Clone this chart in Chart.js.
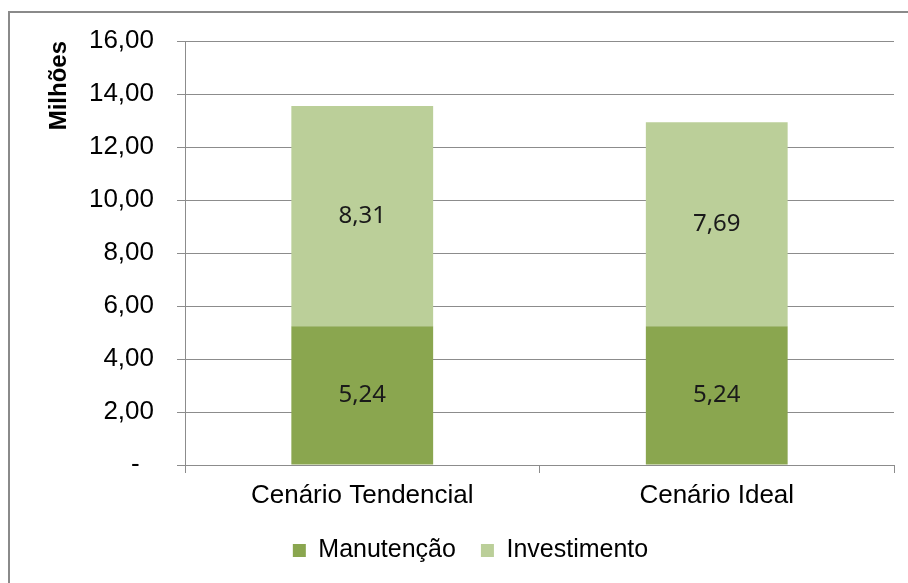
<!DOCTYPE html>
<html>
<head>
<meta charset="utf-8">
<script src="https://cdn.jsdelivr.net/npm/chart.js@4/dist/chart.umd.min.js"></script>
<style>
  html, body { margin: 0; padding: 0; background: #fff; overflow: hidden; }
  #frame {
    position: absolute; left: 8px; top: 11px;
    width: 1000px; height: 700px;
    border: 2px solid #8a8a8a;
  }
  #wrap { position: absolute; left: 0; top: 0; width: 908px; height: 583px; }
</style>
</head>
<body>
<div id="frame"></div>
<div id="wrap"><canvas id="custosChart" width="908" height="583"></canvas></div>
<script>
// Data
const categories = ['Cenário Tendencial', 'Cenário Ideal'];
const manutencao = [5.24, 5.24];
const investimento = [8.31, 7.69];
const yTickLabels = ['-', '2,00', '4,00', '6,00', '8,00', '10,00', '12,00', '14,00', '16,00'];

const FONT = '"Liberation Sans", Arial, sans-serif';
const GRID = '#8c8c8c';

// values written in the middle of each bar segment
const barValueLabels = {
  id: 'barValueLabels',
  afterDatasetsDraw(chart) {
    const ctx = chart.ctx;
    ctx.save();
    ctx.font = '24px "Noto Sans"';
    ctx.fillStyle = '#1a1a1a';
    ctx.textAlign = 'center';
    ctx.textBaseline = 'middle';
    chart.data.datasets.forEach((ds, i) => {
      chart.getDatasetMeta(i).data.forEach((bar, j) => {
        const y = (bar.y + bar.base) / 2;
        ctx.fillText(ds.data[j].toFixed(2).replace('.', ','), bar.x, y);
      });
    });
    ctx.restore();
  }
};

const ctx = document.getElementById('custosChart').getContext('2d');
new Chart(ctx, {
  type: 'bar',
  data: {
    labels: categories,
    datasets: [
      {
        label: 'Manutenção',
        data: manutencao,
        backgroundColor: '#8aa64f',
        borderWidth: 0
      },
      {
        label: 'Investimento',
        data: investimento,
        backgroundColor: '#bbcf99',
        borderWidth: 0
      }
    ]
  },
  options: {
    responsive: false,
    animation: false,
    categoryPercentage: 0.8,
    barPercentage: 0.5,
    layout: { padding: { left: 47, right: 14, top: 41, bottom: 10 } },
    plugins: {
      tooltip: { enabled: false },
      legend: {
        position: 'bottom',
        labels: {
          boxWidth: 13,
          boxHeight: 13,
          padding: 25,
          color: '#000',
          font: { family: FONT, size: 25 }
        }
      }
    },
    scales: {
      x: {
        stacked: true,
        afterFit: scale => { scale.height = 48; },
        grid: {
          drawOnChartArea: false,
          drawTicks: true,
          tickLength: 8,
          color: GRID
        },
        border: { display: true, color: GRID },
        ticks: {
          color: '#000',
          padding: 7,
          font: { family: FONT, size: 26 }
        }
      },
      y: {
        stacked: true,
        min: 0,
        max: 16,
        afterFit: scale => { scale.width = 138; },
        grid: { color: GRID, tickLength: 8 },
        border: { display: true, color: GRID },
        ticks: {
          stepSize: 2,
          padding: 23,
          color: '#000',
          font: { family: FONT, size: 26 },
          callback: function (value, index) {
            const label = yTickLabels[index];
            return label === '-' ? '-  ' : label;
          }
        },
        title: {
          display: true,
          text: 'Milhões',
          align: 'end',
          color: '#000',
          padding: 0,
          font: { family: FONT, size: 24, weight: 'bold', lineHeight: 1 }
        }
      }
    }
  },
  plugins: [barValueLabels]
});
</script>
</body>
</html>
